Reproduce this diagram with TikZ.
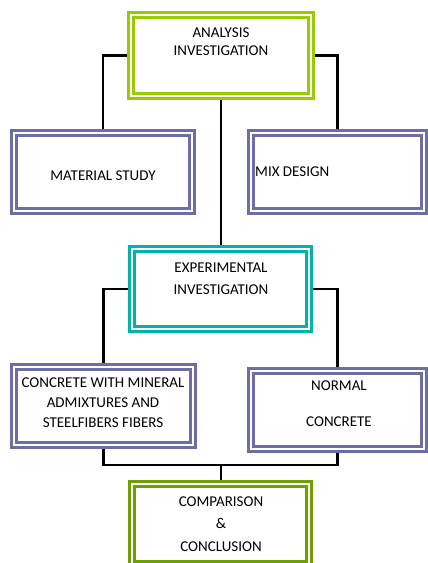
\documentclass[tikz,border=0pt]{standalone}
\usepackage{fontspec}
\setmainfont{Carlito}
\definecolor{limegreen}{HTML}{99CC00}
\definecolor{greypurple}{HTML}{6E6EA6}
\definecolor{tealbox}{HTML}{00B4AA}
\definecolor{olivegreen}{HTML}{6E9E00}
\begin{document}
\begin{tikzpicture}[%
        x=1pt, y=-1pt,
        mybox/.style={draw=#1, double=white, line width=2.9pt, double distance=2.6pt,
                      inner sep=0pt, outer sep=4.2pt},
        mytext/.style={align=center, inner sep=0pt, font=\fontsize{15}{20}\selectfont},
        myline/.style={line width=2.8pt, black}
    ]
    \useasboundingbox (0,0) rectangle (428,563);
    % boxes
    \node [mybox=limegreen, minimum width=180pt, minimum height=81pt] (ana) at (221,55.5) {};
    \node [mybox=greypurple, minimum width=178pt, minimum height=78pt] (mat) at (103,172) {};
    \node [mybox=greypurple, minimum width=173pt, minimum height=78pt] (mix) at (337.5,172) {};
    \node [mybox=tealbox, minimum width=177pt, minimum height=80pt] (exp) at (220.5,289) {};
    \node [mybox=greypurple, minimum width=179pt, minimum height=78pt] (conc) at (103.5,406) {};
    \node [mybox=greypurple, minimum width=173pt, minimum height=78pt] (norm) at (337.5,410) {};
    \node [mybox=olivegreen, minimum width=177pt, minimum height=80pt] (comp) at (220.5,524) {};
    % texts
    \node [mytext, font=\fontsize{15}{18}\selectfont] (anatxt) at (221,42) {ANALYSIS\\INVESTIGATION};
    \node [mytext] (mattxt) at (103,176) {MATERIAL STUDY};
    \node [mytext, anchor=west] (mixtxt) at (255,172) {MIX DESIGN};
    \node [mytext, font=\fontsize{15}{22}\selectfont] (exptxt) at (221,279) {EXPERIMENTAL\\INVESTIGATION};
    \node [mytext] (conctxt) at (103,403) {CONCRETE WITH MINERAL\\ADMIXTURES AND\\STEELFIBERS FIBERS};
    \node [mytext, font=\fontsize{15}{18}\selectfont] (normtxt) at (339,404) {NORMAL\\[18pt]CONCRETE};
    \node [mytext, font=\fontsize{15}{22.5}\selectfont] (comptxt) at (221,524) {COMPARISON\\\&\\CONCLUSION};
    % connectors
    \coordinate (merge) at (221,465);
    \draw [myline] (ana.west) -| (mat.north);
    \draw [myline] (ana.east) -| (mix.north);
    \draw [myline] (ana.south) -- (ana.south |- exp.north);
    \draw [myline] (exp.west) -| (conc.north);
    \draw [myline] (exp.east) -| (norm.north);
    \draw [myline] (conc.south) |- (merge) -| (norm.south);
    \draw [myline] (merge) -- (merge |- comp.north);
\end{tikzpicture}
\end{document}
